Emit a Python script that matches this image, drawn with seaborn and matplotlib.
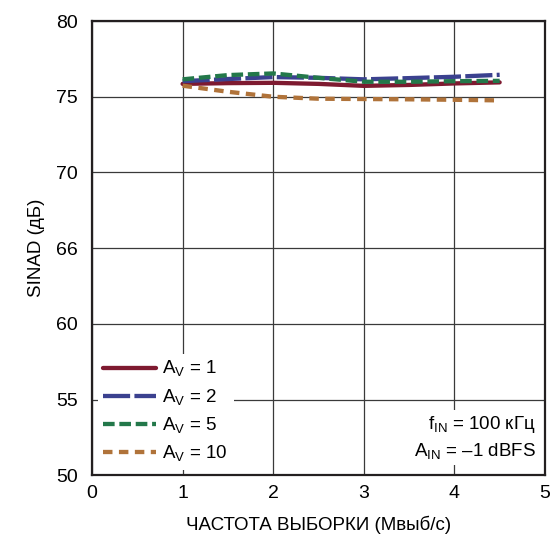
import matplotlib
matplotlib.use('Agg')
import matplotlib.pyplot as plt
import seaborn as sns
import pandas as pd

# sample rate, Msps
rate = [1.0, 1.5, 2.0, 2.5, 3.0, 3.5, 4.0, 4.5]
sinad_av1 = [75.85, 75.90, 75.92, 75.85, 75.72, 75.78, 75.88, 75.95]
sinad_av2 = [76.03, 76.17, 76.30, 76.25, 76.15, 76.23, 76.32, 76.45]
sinad_av5 = [76.15, 76.43, 76.54, 76.25, 75.99, 75.99, 76.03, 76.05]
sinad_av10 = [75.73, 75.33, 75.00, 74.87, 74.85, 74.83, 74.80, 74.76]

y_ticks = [50, 55, 60, 65, 70, 75, 80]
y_tick_labels = ['50', '55', '60', '66', '70', '75', '80']

series = [
    (r'A$_\mathregular{V}$ = 1', sinad_av1, '#7E1A30', '-'),
    (r'A$_\mathregular{V}$ = 2', sinad_av2, '#3B418F', (0, (6.3, 1.0))),
    (r'A$_\mathregular{V}$ = 5', sinad_av5, '#23784A', (0, (2.7, 1.1))),
    (r'A$_\mathregular{V}$ = 10', sinad_av10, '#B0733A', (0, (2.2, 1.5))),
]

sns.set_style('white')
plt.rcParams['font.family'] = ['Liberation Sans', 'DejaVu Sans']
plt.rcParams['mathtext.fontset'] = 'custom'
plt.rcParams['mathtext.rm'] = 'Liberation Sans'
plt.rcParams['text.color'] = 'black'

f = plt.figure(figsize=(5.51, 5.40), dpi=100)
ax = f.add_axes([0.167, 0.120, 0.822, 0.841])

for label, vals, color, ls in series:
    df = pd.DataFrame({'rate': rate, 'sinad': vals})
    sns.lineplot(data=df, x='rate', y='sinad', color=color, linestyle=ls,
                 linewidth=3.1, label=label, ax=ax)

ax.set_xlim(0, 5)
ax.set_ylim(50, 80)
ax.set_xticks([0, 1, 2, 3, 4, 5])
ax.set_yticks(y_ticks)
ax.set_yticklabels(y_tick_labels)
ax.grid(True, color='#3A3A3A', linewidth=0.9)
ax.tick_params(axis='both', which='major', labelsize=14, length=0, labelcolor='black')
ax.tick_params(axis='y', pad=10)
ax.tick_params(axis='x', pad=7)
for sp in ax.spines.values():
    sp.set_color('#231F20')
    sp.set_linewidth(1.6)

ax.set_xlabel('ЧАСТОТА ВЫБОРКИ (Мвыб/с)', fontsize=13.5, labelpad=10, color='black')
ax.set_ylabel('SINAD (дБ)', fontsize=13.5, labelpad=8, color='black')

leg = ax.legend(loc='lower left', fontsize=13.5, handlelength=2.8, handletextpad=0.35,
                labelspacing=0.42, borderaxespad=0.3, borderpad=0.3,
                frameon=True, fancybox=False)
leg.get_frame().set_facecolor('white')
leg.get_frame().set_edgecolor('none')
leg.get_frame().set_alpha(1)

ax.text(0.98, 0.03, 'f$_\\mathregular{IN}$ = 100 кГц\nA$_\\mathregular{IN}$ = –1 dBFS',
        transform=ax.transAxes, ha='right', va='bottom', fontsize=13.5, linespacing=1.4,
        bbox=dict(boxstyle='square,pad=0.2', fc='white', ec='none'))

plt.savefig('out.png', dpi=100)
plt.close(f)
